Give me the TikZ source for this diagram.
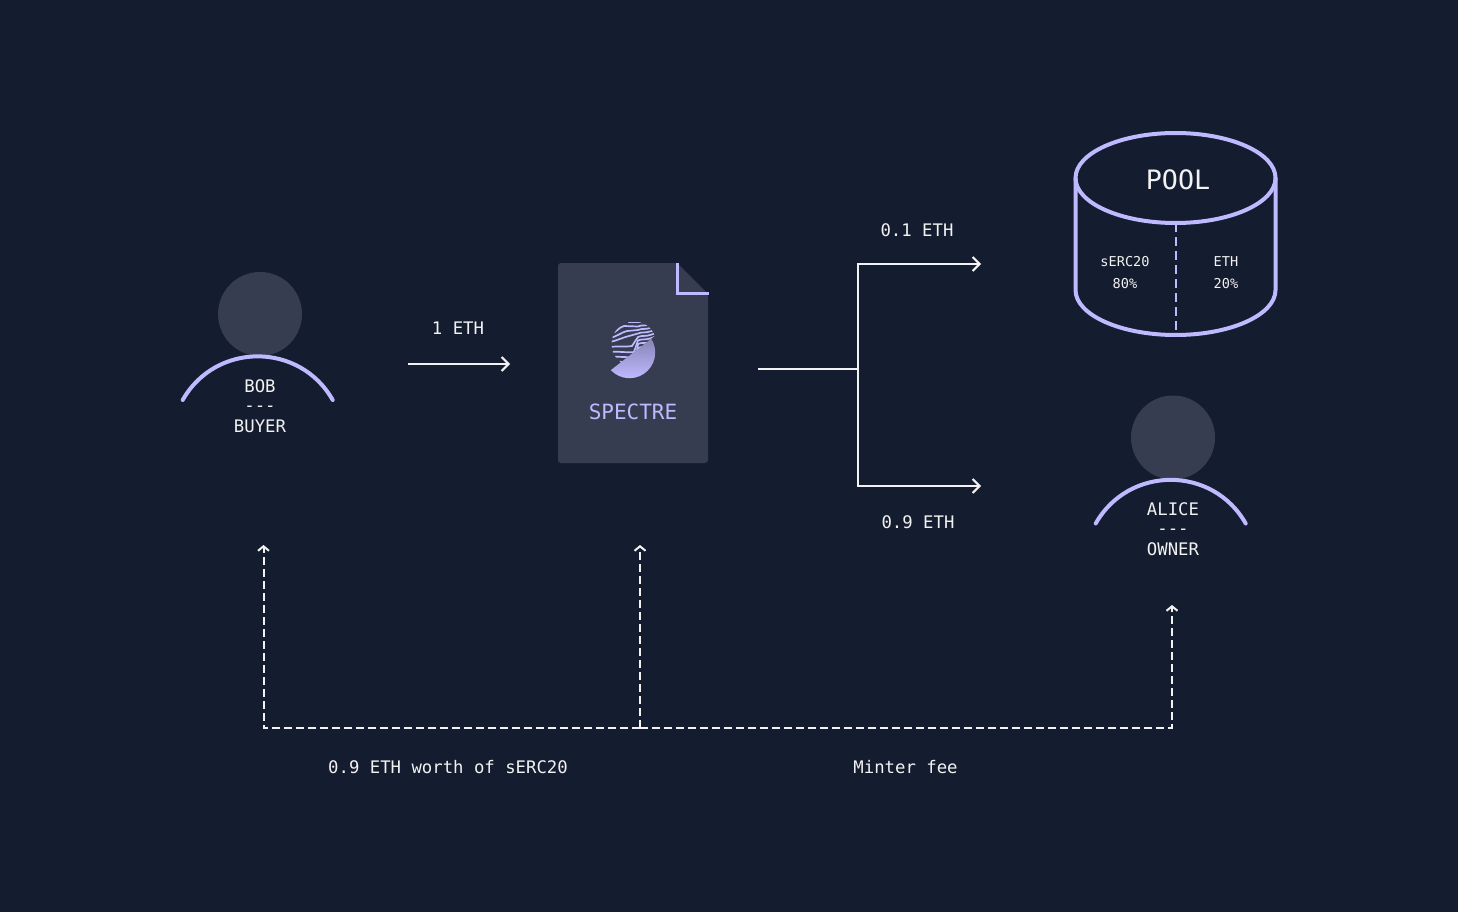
\documentclass[tikz,border=0pt]{standalone}
\usepackage{fontspec}
\setmonofont{DejaVu Sans Mono}
\usetikzlibrary{arrows.meta, positioning}
\definecolor{mnight}{HTML}{141C2F}
\definecolor{mslate}{HTML}{363D50}
\definecolor{mlilac}{HTML}{BFB9FF}
\definecolor{mwhite}{HTML}{F2F2F2}
\tikzset{
  lbl/.style={text=mwhite, inner sep=0pt, font=\ttfamily\fontsize{17.3}{20}\selectfont},
  smalllbl/.style={text=mwhite, inner sep=0pt, font=\ttfamily\fontsize{13.6}{16}\selectfont},
  arr/.style={-{Straight Barb[length=7pt, width=14pt]}, line width=2pt, mwhite},
  darr/.style={-{Straight Barb[length=4.5pt, width=11pt]}, line width=2pt, mwhite, dash pattern=on 8pt off 4pt},
  head/.style={circle, fill=mslate, minimum size=84pt, inner sep=0pt},
  shoulder/.style={line width=4pt, mlilac, line cap=round},
}
\begin{document}
\begin{tikzpicture}[x=1pt, y=-1pt]
  \useasboundingbox[fill=mnight] (0,0) rectangle (1458,912);
  % buyer
  \node[head] (bobhead) at (260,314) {};
  \draw[shoulder] (182.7,400) .. controls (215.7,341.8) and (299.7,341.8) .. (332.7,400);
  \node[lbl] (bob) at (260,386) {BOB};
  \node[lbl] (bobdash) at (260,409) {---};
  \node[lbl] (buyer) at (260,426) {BUYER};
  % contract file
  \fill[mslate, rounded corners=3pt] (558,263) -- (677,263) -- (708,294) -- (708,463) -- (558,463) -- cycle;
  \draw[line width=3pt, mlilac] (677,263) -- (677,293) -- (708.5,293);
  \begin{scope}
    \clip (605,374.7) -- (655,335.7) -- (660,335) -- (660,382) -- (605,382) -- cycle;
    \shade[top color=mslate!55!mlilac, bottom color=mlilac] (629.5,352.5) circle[radius=25.7pt];
  \end{scope}
  \begin{scope}
    \clip (605,374.7) -- (655,335.7) -- (657,333) -- (657,318) -- (605,318) -- cycle;
    \clip (634,344) circle[radius=22.5pt];
    \foreach \yl/\xf/\yf/\yb in {334/624/326/325.5, 338/627/331/329, 342/629/336/332.5, 347/632/346/336,
                                 352/634/352/339.5, 357/636/357/343, 362/638/362/347} {
      \draw[mlilac, line width=1.7pt] (610,\yl) .. controls (616,\yl-1) and (\xf-5,\yf+1) .. (\xf,\yf)
        -- (638,\yb+1) .. controls (640,\yb) and (642,\yb) .. (643,\yb) .. controls (649,\yb) and (653,\yb-2) .. (658,\yb-4);
    }
    \draw[mlilac, line width=1.7pt] (628,322.5) -- (642,322.5);
  \end{scope}
  \node[text=mlilac, inner sep=0pt, font=\ttfamily\fontsize{21}{24}\selectfont] (spectre) at (633,412) {SPECTRE};
  % pool
  \draw[line width=4pt, mlilac] (1075.5,178) -- (1075.5,290) arc[start angle=180, end angle=360, x radius=100pt, y radius=45pt] -- (1275.5,178);
  \draw[line width=4pt, mlilac] (1175.5,178) ellipse[x radius=100pt, y radius=45pt];
  \draw[mlilac, line width=2pt, dash pattern=on 9pt off 5pt] (1175.5,223) -- (1175.5,335);
  \node[text=mwhite, inner sep=0pt, font=\ttfamily\fontsize{26.7}{30}\selectfont] (pool) at (1178,180) {POOL};
  \node[smalllbl] (serc) at (1125,262) {sERC20};
  \node[smalllbl] (sercpct) at (1125,284) {80\%};
  \node[smalllbl] (eth) at (1226,262) {ETH};
  \node[smalllbl] (ethpct) at (1226,284) {20\%};
  % owner
  \node[head] (alicehead) at (1173,437.5) {};
  \draw[shoulder] (1095.7,523.5) .. controls (1128.7,465.3) and (1212.7,465.3) .. (1245.7,523.5);
  \node[lbl] (alice) at (1173,509) {ALICE};
  \node[lbl] (alicedash) at (1173,532) {---};
  \node[lbl] (owner) at (1173,549) {OWNER};
  % flows
  \coordinate (payfrom) at (408,364);
  \coordinate (payto) at (510,364);
  \draw[arr] (payfrom) -- (payto);
  \node[lbl] (pay) at (458,328) {1 ETH};
  \coordinate (split) at (858,369);
  \coordinate (splitin) at (758,369);
  \coordinate (topoof) at (981,264);
  \coordinate (tofee) at (981,486);
  \draw[line width=2pt, mwhite] (splitin) -- (split);
  \draw[arr] (split) |- (topoof);
  \draw[arr] (split) |- (tofee);
  \node[lbl] (tenth) at (917,230) {0.1 ETH};
  \node[lbl] (rest) at (918,522) {0.9 ETH};
  % returns
  \coordinate (rail) at (640,728);
  \coordinate (tobob) at (263.5,545);
  \coordinate (tofile) at (640,545);
  \coordinate (toalice) at (1172,605);
  \draw[darr] (rail) -| (tobob);
  \draw[darr] (rail) -| (toalice);
  \draw[darr] (rail) -- (tofile);
  \node[lbl] (worth) at (448,767.5) {0.9 ETH worth of sERC20};
  \node[lbl] (fee) at (905.5,767.5) {Minter fee};
\end{tikzpicture}
\end{document}
